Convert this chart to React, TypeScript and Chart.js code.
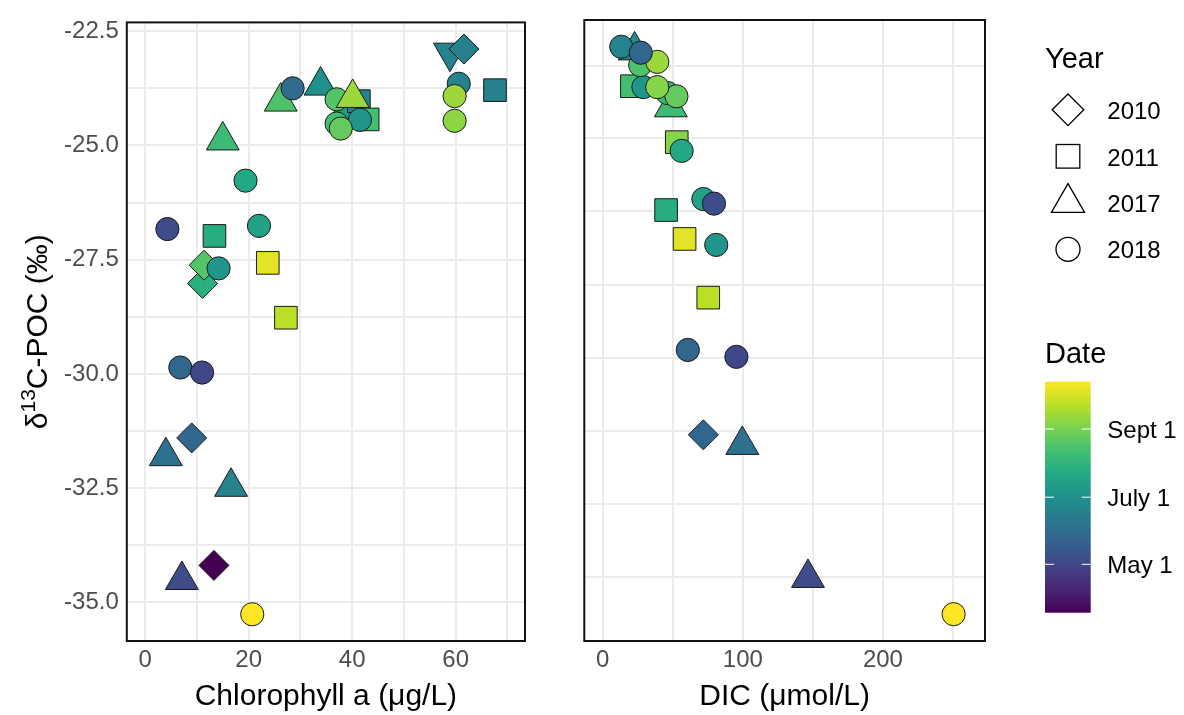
import React, { useEffect, useRef } from "react";
import { Chart, registerables } from "chart.js";

Chart.register(...registerables);

const FONT = "'Liberation Sans', Arial, Helvetica, sans-serif";

// ---------- Left panel: Chlorophyll a (µg/L) vs δ13C-POC ----------
const chlX = [4.3, 6.8, 11.0, 9.0, 4.0, 16.6, 13.3, 7.1, 20.7, 11.1, 11.4, 14.2, 13.4, 23.7, 27.2, 22.0, 19.4, 15.0, 26.2, 28.5, 33.9, 38.8, 37.0, 41.3, 40.1, 43.0, 41.5, 37.0, 37.8, 58.9, 61.6, 60.6, 59.8, 59.8, 67.6];
const chlY = [-26.83, -29.86, -29.97, -31.4, -31.8, -32.47, -34.19, -34.51, -35.26, -28.02, -27.62, -27.69, -26.98, -27.57, -28.77, -26.76, -25.77, -24.89, -24.04, -23.75, -23.69, -24.29, -23.99, -24.03, -23.96, -24.43, -24.44, -24.52, -24.63, -22.97, -22.89, -23.65, -23.92, -24.46, -23.79];
const chlYear = [2018, 2018, 2018, 2010, 2017, 2017, 2010, 2017, 2018, 2010, 2010, 2018, 2011, 2011, 2011, 2018, 2018, 2017, 2017, 2018, 2017, 2018, 2018, 2011, 2017, 2011, 2018, 2018, 2018, null, 2010, 2018, 2018, 2018, 2011];
const chlDoy = [125, 146, 121, 146, 155, 171, 77, 125, 287, 209, 230, 186, 207, 279, 266, 197, 203, 220, 228, 150, 182, 192, 230, 171, 256, 224, 186, 224, 237, 171, 169, 171, 256, 251, 169];

// ---------- Right panel: DIC (µmol/L) vs δ13C-POC ----------
const dicX = [250.5, 146.5, 99.6, 71.8, 60.7, 95.4, 75.3, 81.0, 58.4, 45.2, 71.8, 79.4, 52.8, 56.3, 48.6, 20.8, 46.3, 52.6, 29.0, 38.9, 22.7, 26.7, 38.9, 13.2, 27.1];
const dicY = [-35.26, -34.47, -31.57, -31.35, -29.5, -29.65, -28.36, -27.21, -27.08, -26.45, -26.21, -26.31, -24.97, -25.16, -24.21, -23.75, -23.9, -23.97, -23.77, -23.77, -22.97, -23.29, -23.22, -22.89, -23.02];
const dicYear = [2018, 2017, 2017, 2010, 2018, 2018, 2011, 2018, 2011, 2011, 2018, 2018, 2011, 2018, 2017, 2011, 2018, 2018, 2018, 2018, 2017, 2018, 2018, 2018, 2018];
const dicDoy = [287, 125, 155, 146, 146, 121, 266, 186, 279, 207, 197, 125, 249, 203, 220, 224, 220, 237, 186, 249, 178, 228, 256, 171, 146];

// ---------- axes ----------
const yMin = -35.845;
const yMax = -22.307;
const yTickValues = [-22.5, -25, -27.5, -30, -32.5, -35];
const chlMin = -3.54;
const chlMax = 73.4;
const chlTickValues = [0, 20, 40, 60];
const dicMin = -13.2;
const dicMax = 272.9;
const dicTickValues = [0, 100, 200];
const dicGridY = [-23.3, -24.89, -26.48, -28.08, -29.67, -31.26, -32.85, -34.44];

// ---------- legends ----------
const years = [2010, 2011, 2017, 2018];
const dateMin = 77;
const dateMax = 287;
const dateTickDoy = [244, 182, 121];
const dateTickLabels = ["Sept 1", "July 1", "May 1"];

const VIRIDIS = ["#440154", "#482576", "#414487", "#35608D", "#2A788E", "#21908C", "#22A884", "#43BF71", "#7AD151", "#BBDF27", "#FDE725"];

function hexToRgb(h: string) {
  const n = parseInt(h.slice(1), 16);
  return [(n >> 16) & 255, (n >> 8) & 255, n & 255];
}
function viridis(t: number) {
  const tt = Math.max(0, Math.min(1, t));
  const n = VIRIDIS.length - 1;
  const i = Math.min(Math.floor(tt * n), n - 1);
  const f = tt * n - i;
  const a = hexToRgb(VIRIDIS[i]);
  const b = hexToRgb(VIRIDIS[i + 1]);
  const c = a.map((v, k) => Math.round(v + (b[k] - v) * f));
  return `rgb(${c[0]},${c[1]},${c[2]})`;
}
const dateColor = (d: number) => viridis((d - dateMin) / (dateMax - dateMin));

const SHAPES: Record<string, { style: string; radius: number; rotation: number }> = {
  "2010": { style: "rectRot", radius: 15, rotation: 0 },
  "2011": { style: "rect", radius: 16, rotation: 0 },
  "2017": { style: "triangle", radius: 19, rotation: 0 },
  "2018": { style: "circle", radius: 11.6, rotation: 0 },
  other: { style: "triangle", radius: 19, rotation: 180 },
};
const shapeOf = (y: number | null) => SHAPES[y == null ? "other" : String(y)];

const near = (v: number, arr: number[]) => arr.some((a) => Math.abs(a - v) < 1e-6);

function range(from: number, to: number, step: number) {
  const out: number[] = [];
  for (let v = from; v <= to + 1e-9; v += step) out.push(Math.round(v * 1000) / 1000);
  return out;
}

type PanelCfg = {
  xs: number[];
  ys: number[];
  yrs: (number | null)[];
  doys: number[];
  xMin: number;
  xMax: number;
  xGrid: number[];
  xLabels: number[];
  yGrid: number[];
  showYLabels: boolean;
  yAxisWidth: number;
  rightPad: number;
  xTitle: string;
  yTitle: boolean;
};

function makeChart(canvas: HTMLCanvasElement, c: PanelCfg) {
  const data = c.xs.map((x, i) => ({ x, y: c.ys[i] }));
  const borderPlugin = {
    id: "panelBorder",
    afterDatasetsDraw(chart: any) {
      const { ctx, chartArea: a } = chart;
      ctx.save();
      ctx.strokeStyle = "#111111";
      ctx.lineWidth = 2;
      ctx.strokeRect(a.left, a.top, a.right - a.left, a.bottom - a.top);
      ctx.restore();
    },
    afterDraw(chart: any) {
      const { ctx, chartArea: a } = chart;
      ctx.save();
      ctx.fillStyle = "#000000";
      ctx.font = `30px ${FONT}`;
      ctx.textAlign = "center";
      ctx.textBaseline = "alphabetic";
      ctx.fillText(c.xTitle, (a.left + a.right) / 2, 705);
      if (c.yTitle) {
        ctx.translate(46.7, (a.top + a.bottom) / 2);
        ctx.rotate(-Math.PI / 2);
        ctx.textAlign = "left";
        const big = `30px ${FONT}`;
        const small = `21px ${FONT}`;
        ctx.font = big;
        const w1 = ctx.measureText("δ").width;
        const w3 = ctx.measureText("C-POC (‰)").width;
        ctx.font = small;
        const w2 = ctx.measureText("13").width;
        let x = -(w1 + w2 + w3) / 2;
        ctx.font = big;
        ctx.fillText("δ", x, 0);
        x += w1;
        ctx.font = small;
        ctx.fillText("13", x, -11.7);
        x += w2;
        ctx.font = big;
        ctx.fillText("C-POC (‰)", x, 0);
      }
      ctx.restore();
    },
  };

  return new Chart(canvas, {
    type: "scatter",
    data: {
      datasets: [
        {
          data,
          pointStyle: c.yrs.map((y) => shapeOf(y).style) as any,
          pointRadius: c.yrs.map((y) => shapeOf(y).radius),
          pointHoverRadius: c.yrs.map((y) => shapeOf(y).radius),
          pointRotation: c.yrs.map((y) => shapeOf(y).rotation),
          pointBackgroundColor: c.doys.map(dateColor),
          pointBorderColor: "#1a1a1a",
          pointBorderWidth: 1,
        } as any,
      ],
    },
    options: {
      animation: false,
      responsive: false,
      maintainAspectRatio: false,
      events: [],
      layout: { padding: { top: 11, right: c.rightPad, left: 0, bottom: 0 } },
      plugins: { legend: { display: false }, tooltip: { enabled: false } },
      scales: {
        x: {
          type: "linear",
          min: c.xMin,
          max: c.xMax,
          afterBuildTicks: (s: any) => {
            s.ticks = c.xGrid.map((v) => ({ value: v }));
          },
          afterFit: (s: any) => {
            s.height = 74;
          },
          ticks: {
            autoSkip: false,
            maxRotation: 0,
            padding: 5,
            color: "#4D4D4D",
            font: { family: FONT, size: 24 },
            callback: (v: any) => (near(Number(v), c.xLabels) ? String(v) : ""),
          },
          grid: { color: "#EBEBEB", lineWidth: 2, drawTicks: false },
          border: { display: false },
        },
        y: {
          type: "linear",
          min: yMin,
          max: yMax,
          afterBuildTicks: (s: any) => {
            s.ticks = c.yGrid.map((v) => ({ value: v }));
          },
          afterFit: (s: any) => {
            s.width = c.yAxisWidth;
          },
          ticks: {
            display: c.showYLabels,
            autoSkip: false,
            padding: 8,
            color: "#4D4D4D",
            font: { family: FONT, size: 24 },
            callback: (v: any) => (near(Number(v), yTickValues) ? Number(v).toFixed(1) : ""),
          },
          grid: { color: "#EBEBEB", lineWidth: 2, drawTicks: false },
          border: { display: false },
        },
      },
    } as any,
    plugins: [borderPlugin],
  });
}

function Panel(props: { cfg: PanelCfg; left: number; width: number }) {
  const ref = useRef<HTMLCanvasElement | null>(null);
  useEffect(() => {
    if (!ref.current) return;
    const ch = makeChart(ref.current, props.cfg);
    return () => ch.destroy();
  }, []);
  return (
    <canvas
      ref={ref}
      width={props.width}
      height={715}
      style={{ position: "absolute", left: props.left, top: 0, width: props.width, height: 715 }}
    />
  );
}

const leftCfg: PanelCfg = {
  xs: chlX,
  ys: chlY,
  yrs: chlYear,
  doys: chlDoy,
  xMin: chlMin,
  xMax: chlMax,
  xGrid: range(0, 70, 10),
  xLabels: chlTickValues,
  yGrid: range(-35, -22.5, 1.25).reverse(),
  showYLabels: true,
  yAxisWidth: 126.8,
  rightPad: 545 - 538.2,
  xTitle: "Chlorophyll a (μg/L)",
  yTitle: true,
};

const rightCfg: PanelCfg = {
  xs: dicX,
  ys: dicY,
  yrs: dicYear,
  doys: dicDoy,
  xMin: dicMin,
  xMax: dicMax,
  xGrid: range(0, 250, 50),
  xLabels: dicTickValues,
  yGrid: dicGridY,
  showYLabels: false,
  yAxisWidth: 24.3,
  rightPad: 445 - (996.3 - 560),
  xTitle: "DIC (μmol/L)",
  yTitle: false,
};

function Legend() {
  const barX = 1045;
  const barY = 381.7;
  const barW = 45.7;
  const barH = 231;
  const keyX = 1068;
  const shapes = (yr: number, cy: number) => {
    const st = { fill: "none", stroke: "#000", strokeWidth: 1.3 };
    if (yr === 2010)
      return <polygon {...st} points={`${keyX - 15.8},${cy} ${keyX},${cy - 15.8} ${keyX + 15.8},${cy} ${keyX},${cy + 15.8}`} />;
    if (yr === 2011) return <rect {...st} x={keyX - 11.8} y={cy - 11.8} width={23.6} height={23.6} />;
    if (yr === 2017)
      return <polygon {...st} points={`${keyX},${cy - 19.2} ${keyX - 16.6},${cy + 9.6} ${keyX + 16.6},${cy + 9.6}`} />;
    return <circle {...st} cx={keyX} cy={cy} r={12} />;
  };
  return (
    <svg width={1184} height={715} style={{ position: "absolute", left: 0, top: 0 }}>
      <defs>
        <linearGradient id="viridisGrad" x1="0" y1="1" x2="0" y2="0">
          {VIRIDIS.map((c, i) => (
            <stop key={i} offset={i / (VIRIDIS.length - 1)} stopColor={c} />
          ))}
        </linearGradient>
      </defs>
      <text x={1045} y={68.3} fontFamily={FONT} fontSize={29} fill="#000">
        Year
      </text>
      {years.map((yr, i) => (
        <g key={yr}>
          {shapes(yr, 109.8 + i * 46.5)}
          <text x={1107.3} y={119.3 + i * 46.2} fontFamily={FONT} fontSize={24} fill="#000">
            {String(yr)}
          </text>
        </g>
      ))}
      <text x={1045} y={362.7} fontFamily={FONT} fontSize={29} fill="#000">
        Date
      </text>
      <rect x={barX} y={barY} width={barW} height={barH} fill="url(#viridisGrad)" />
      {dateTickDoy.map((d, i) => {
        const ty = barY + barH - ((d - dateMin) / (dateMax - dateMin)) * barH;
        return (
          <g key={d}>
            <line x1={barX} x2={barX + 9} y1={ty} y2={ty} stroke="#fff" strokeWidth={1} />
            <line x1={barX + barW - 9} x2={barX + barW} y1={ty} y2={ty} stroke="#fff" strokeWidth={1} />
            <text x={1107.3} y={ty + 8.6} fontFamily={FONT} fontSize={24} fill="#000">
              {dateTickLabels[i]}
            </text>
          </g>
        );
      })}
    </svg>
  );
}

export default function App() {
  return (
    <div style={{ position: "fixed", left: 0, top: 0, width: 1184, height: 715, background: "#fff", overflow: "hidden" }}>
      <Panel cfg={leftCfg} left={0} width={545} />
      <Panel cfg={rightCfg} left={560} width={445} />
      <Legend />
    </div>
  );
}
